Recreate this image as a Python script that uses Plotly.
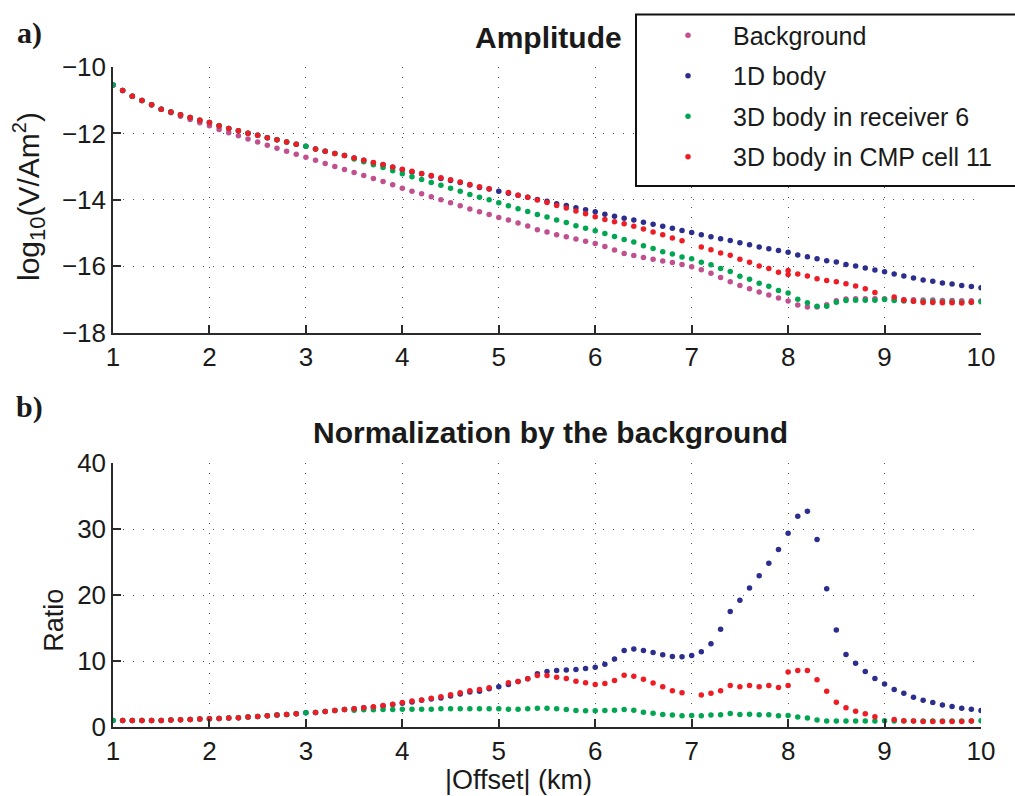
import numpy as np
import plotly.graph_objects as go

# Source-receiver offsets (km), 0.1 km sampling
offset_km = np.round(np.arange(1.0, 10.0001, 0.1), 1).tolist()

# Background field, log10 amplitude (V/Am^2)
background_log = [
    -10.54, -10.71, -10.88, -11.01, -11.14, -11.27, -11.38, -11.48, -11.58, -11.68,
    -11.77, -11.88, -11.98, -12.07, -12.17, -12.26, -12.36, -12.45, -12.54, -12.63,
    -12.72, -12.81, -12.91, -13.00, -13.09, -13.18, -13.27, -13.36, -13.45, -13.55,
    -13.65, -13.74, -13.82, -13.91, -14.00, -14.09, -14.18, -14.28, -14.36, -14.44,
    -14.53, -14.61, -14.70, -14.79, -14.90, -14.97, -15.05, -15.11, -15.18, -15.25,
    -15.32, -15.41, -15.51, -15.62, -15.68, -15.74, -15.79, -15.84, -15.89, -15.95,
    -16.02, -16.11, -16.21, -16.34, -16.47, -16.58, -16.68, -16.78, -16.87, -16.96,
    -17.05, -17.17, -17.23, -17.23, -17.16, -17.04, -16.99, -16.98, -16.98, -16.98,
    -16.98, -16.99, -17.00, -17.01, -17.02, -17.02, -17.03, -17.03, -17.04, -17.04,
    -17.05,
]

# Near-offset ratio shared by all anomalous models (1.0 - 3.4 km)
near_ratio = [
    1.0, 1.0, 1.0, 1.0, 1.0, 1.0, 1.05, 1.1, 1.15, 1.2,
    1.25, 1.3, 1.35, 1.4, 1.5, 1.6, 1.7, 1.8, 1.9, 2.0,
    2.15, 2.2, 2.35, 2.5, 2.65,
]

# Ratio to background, 3.5 - 10.0 km
ratio_1d = [
    2.75, 2.9, 3.0, 3.2, 3.4,
    3.6, 3.8, 4.05, 4.25, 4.4, 4.7, 5.0, 5.3, 5.4, 5.8,
    6.1, 6.45, 6.9, 7.3, 8.05, 8.4, 8.55, 8.65, 8.7, 8.85,
    9.05, 9.5, 10.3, 11.6, 11.8, 11.6, 11.3, 10.95, 10.7, 10.65,
    10.85, 11.4, 12.6, 14.8, 17.5, 19.2, 21.05, 22.9, 24.8, 26.9,
    29.35, 31.95, 32.7, 28.4, 20.95, 14.7, 11.0, 9.65, 8.4, 7.35,
    6.5, 5.7, 5.1, 4.5, 4.05, 3.7, 3.35, 3.1, 2.85, 2.7,
    2.5,
]
ratio_rx6 = [
    2.55, 2.6, 2.6, 2.65, 2.65,
    2.7, 2.7, 2.7, 2.7, 2.75, 2.75, 2.75, 2.75, 2.75, 2.75,
    2.75, 2.7, 2.7, 2.75, 2.85, 2.85, 2.75, 2.65, 2.5, 2.45,
    2.45, 2.5, 2.55, 2.65, 2.55, 2.25, 2.1, 1.9, 1.8, 1.7,
    1.75, 1.7, 1.8, 1.85, 2.05, 1.9, 1.95, 1.85, 1.85, 1.7,
    1.75, 1.5, 1.35, 1.05, 0.9, 0.9, 0.9, 0.9, 0.9, 0.9,
    0.95, 0.9, 0.9, 0.9, 0.9, 0.9, 0.9, 0.9, 0.9, 0.9,
    0.95,
]
ratio_cmp11 = [
    2.75, 2.9, 3.05, 3.25, 3.45,
    3.7, 3.95, 4.1, 4.35, 4.6, 4.9, 5.2, 5.5, 5.7, 5.95,
    None, 6.7, 6.9, 7.3, 7.8, 7.8, 7.55, 7.35, 6.95, 6.7,
    6.45, 6.6, 7.05, 7.85, 7.7, 7.25, 6.65, 6.1, 5.5, 5.2,
    None, 4.85, 5.1, 5.5, 6.3, 6.1, 6.3, 6.1, 6.3, 6.0,
    6.3, 8.55, 8.55, 7.15, 5.4, 3.75, 2.9, 2.4, 2.0, 1.55,
    None, 1.15, 0.95, 0.9, 0.85, 0.85, 0.85, 0.85, 0.85, 0.9,
    None,
]
# CMP cell 11 has no sample at odd offsets; second sample at the 8 km cell edge
cmp11_missing = [1.0, 3.0]
cmp11_extra_offset = [8.0]
cmp11_extra_ratio = [8.35]

series_names = ["Background", "1D body", "3D body in receiver 6", "3D body in CMP cell 11"]
series_colors = ["#c1508f", "#2b2e8c", "#00a651", "#ee1d25"]

# Assemble full-length ratio arrays
r_1d = near_ratio + ratio_1d
r_rx6 = near_ratio + ratio_rx6
r_cmp = [None if x in cmp11_missing else r for x, r in zip(offset_km, near_ratio + ratio_cmp11)]
x_cmp = offset_km + cmp11_extra_offset
r_cmp_all = r_cmp + cmp11_extra_ratio


def to_log_amplitude(xs, ratios):
    bg = dict(zip(offset_km, background_log))
    return [None if r is None else bg[x] + np.log10(r) for x, r in zip(xs, ratios)]


top_series = [
    (offset_km, background_log),
    (offset_km, to_log_amplitude(offset_km, r_1d)),
    (offset_km, to_log_amplitude(offset_km, r_rx6)),
    (x_cmp, to_log_amplitude(x_cmp, r_cmp_all)),
]
bottom_series = [
    None,
    (offset_km, r_1d),
    (offset_km, r_rx6),
    (x_cmp, r_cmp_all),
]

fig = go.Figure()
MS = 5.5
for i, name in enumerate(series_names):
    xs, ys = top_series[i]
    fig.add_trace(go.Scatter(
        x=xs, y=ys, mode="markers", name=name, legendgroup=name,
        marker=dict(color=series_colors[i], size=MS, line=dict(width=0)),
        xaxis="x", yaxis="y",
    ))
for i, name in enumerate(series_names):
    if bottom_series[i] is None:
        continue
    xs, ys = bottom_series[i]
    fig.add_trace(go.Scatter(
        x=xs, y=ys, mode="markers", name=name, legendgroup=name, showlegend=False,
        marker=dict(color=series_colors[i], size=MS, line=dict(width=0)),
        xaxis="x2", yaxis="y2",
    ))

W, H = 1015, 796
ML, MR, MT, MB = 113, 34, 62, 69
PW, PH = W - ML - MR, H - MT - MB


def px_x(px):
    return (px - ML) / PW


def px_y(py):
    return (H - MB - py) / PH


FONT = "Liberation Sans, Arial"
axis_common = dict(
    showline=True, linecolor="#2a2a2a", linewidth=1.5, mirror=False,
    ticks="inside", ticklen=8, tickwidth=1.5, tickcolor="#2a2a2a",
    showgrid=True, gridcolor="#555555", gridwidth=1, griddash="1px,9px",
    zeroline=False, tickfont=dict(family=FONT, size=26, color="#1a1a1a"),
)

fig.update_layout(
    width=W, height=H,
    margin=dict(l=ML, r=MR, t=MT, b=MB),
    paper_bgcolor="white", plot_bgcolor="white",
    font=dict(family=FONT, color="#1a1a1a"),
    xaxis=dict(domain=[0, 1], range=[1, 10], tickvals=list(range(1, 11)), anchor="y", **axis_common),
    yaxis=dict(domain=[px_y(329.6), 1], range=[-18, -10], tickvals=[-18, -16, -14, -12, -10], anchor="x", **axis_common),
    xaxis2=dict(domain=[0, 1], range=[1, 10], tickvals=list(range(1, 11)), anchor="y2", **axis_common),
    yaxis2=dict(domain=[0, px_y(461)], range=[0, 40], tickvals=[0, 10, 20, 30, 40], anchor="x2", **axis_common),
    showlegend=True,
    legend=dict(
        x=px_x(643), xanchor="left", y=px_y(7), yanchor="top",
        bgcolor="rgba(0,0,0,0)", borderwidth=0,
        font=dict(family=FONT, size=25, color="#1a1a1a"),
        tracegroupgap=5, itemwidth=80, itemsizing="trace",
    ),
    # legend frame, running off the right edge of the figure
    shapes=[dict(
        type="rect", xref="paper", yref="paper",
        x0=px_x(636), x1=px_x(1030), y0=px_y(182), y1=px_y(9),
        line=dict(color="#111111", width=2), fillcolor="white", layer="above",
    )],
)

annotations = [
    dict(text="<b>Amplitude</b>", x=px_x(548), y=px_y(32), font=dict(size=30)),
    dict(text="<b>Normalization by the background</b>", x=px_x(550), y=px_y(430), font=dict(size=30)),
    dict(text="log<sub><span style='font-size:22px'>10</span></sub>(V/Am<sup><span style='font-size:20px'>2</span></sup>)",
         x=px_x(29), y=px_y(193), textangle=-90, font=dict(size=30)),
    dict(text="Ratio", x=px_x(54), y=px_y(620), textangle=-90, font=dict(size=27)),
    dict(text="|Offset| (km)", x=px_x(518), y=px_y(780), font=dict(size=27)),
    dict(text="<b>a)</b>", x=px_x(29), y=px_y(28), font=dict(size=30, family="Liberation Serif, Times New Roman")),
    dict(text="<b>b)</b>", x=px_x(29), y=px_y(405), font=dict(size=30, family="Liberation Serif, Times New Roman")),
]
for a in annotations:
    a.update(xref="paper", yref="paper", showarrow=False, xanchor="center", yanchor="middle")
    a["font"].setdefault("family", FONT)
    a["font"].setdefault("color", "#1a1a1a")
fig.update_layout(annotations=annotations)

fig.write_html("out.html")
